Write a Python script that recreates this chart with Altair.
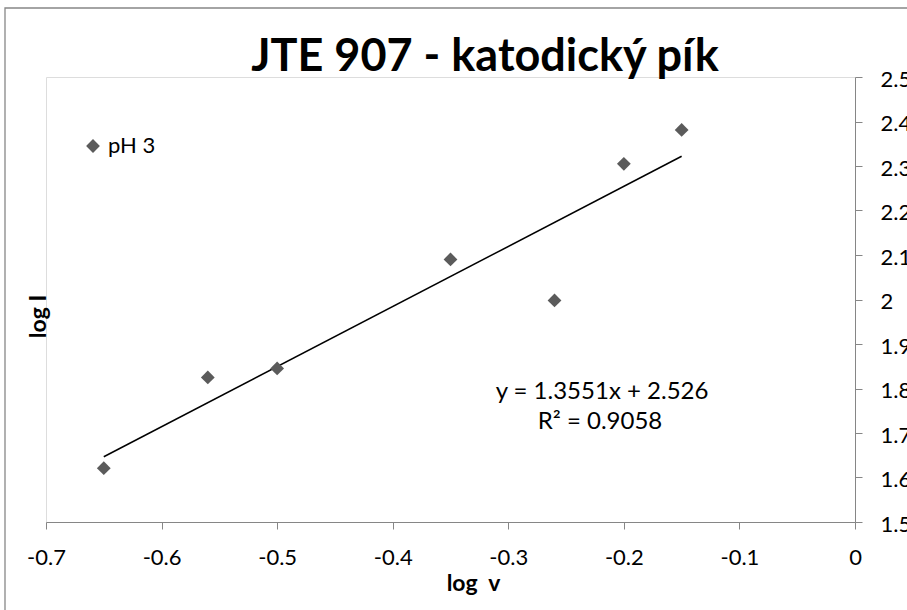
import altair as alt
import pandas as pd

log_v = [-0.65, -0.56, -0.50, -0.35, -0.26, -0.20, -0.15]
log_I = [1.621, 1.825, 1.845, 2.090, 1.998, 2.305, 2.381]
series = ["pH 3"] * len(log_v)

x_ticks = [-0.7, -0.6, -0.5, -0.4, -0.3, -0.2, -0.1, 0]
y_ticks = [1.5, 1.6, 1.7, 1.8, 1.9, 2.0, 2.1, 2.2, 2.3, 2.4, 2.5]

title_text = "JTE 907 - katodický pík"
eq_line1 = "y = 1.3551x + 2.526"
eq_line2 = "R² = 0.9058"

df = pd.DataFrame({"log_v": log_v, "log_I": log_I, "series": series})

FONT = "Lato"
W, H = 809, 445
PAD_L, PAD_T = 46, 77
AXIS_GRAY = "#868686"

x_enc = alt.X(
    "log_v:Q",
    scale=alt.Scale(domain=[-0.7, 0], nice=False, zero=False),
    axis=alt.Axis(
        values=x_ticks, labelExpr="toString(datum.value)", title="log\u00a0\u00a0v", grid=False,
        domainColor=AXIS_GRAY, tickColor=AXIS_GRAY, tickSize=7,
        labelFont=FONT, labelFontSize=22, labelColor="black", labelPadding=18,
        labelFlush=False, labelOverlap=False,
        titleFont=FONT, titleFontSize=23, titleFontWeight="bold", titleColor="black",
        titleX=427, titleY=68, titleBaseline="alphabetic", titleAlign="center",
    ),
)
y_enc = alt.Y(
    "log_I:Q",
    scale=alt.Scale(domain=[1.5, 2.5], nice=False, zero=False),
    axis=alt.Axis(
        orient="right", values=y_ticks, labelExpr="toString(datum.value)", title="log I", grid=False,
        domainColor=AXIS_GRAY, tickColor=AXIS_GRAY, tickSize=7,
        labelFont=FONT, labelFontSize=22, labelColor="black", labelPadding=18,
        labelOffset=2, labelFlush=False, labelOverlap=False,
        titleFont=FONT, titleFontSize=23, titleFontWeight="bold", titleColor="black",
        titleAngle=270, titleX=38 - (PAD_L + W), titleY=316 - PAD_T,
        titleBaseline="middle", titleAlign="center",
    ),
)

points = alt.Chart(df).mark_point(
    shape="diamond", filled=True, size=190, opacity=1
).encode(
    x=x_enc,
    y=y_enc,
    color=alt.Color(
        "series:N",
        scale=alt.Scale(range=["#5b5b5b"]),
        legend=alt.Legend(
            title=None, orient="none", legendX=36, legendY=58,
            symbolType="diamond", symbolSize=190, symbolOpacity=1,
            labelFont=FONT, labelFontSize=22, labelColor="black",
        ),
    ),
)

trend = alt.Chart(df).transform_regression(
    "log_v", "log_I"
).mark_line(color="black", strokeWidth=1.5).encode(
    x="log_v:Q", y="log_I:Q"
)

base_txt = alt.Chart(pd.DataFrame({"a": [0]}))

eq1 = base_txt.mark_text(
    font=FONT, fontSize=24, color="black", align="center", baseline="middle", text=eq_line1
).encode(x=alt.value(602 - PAD_L), y=alt.value(392 - PAD_T))

eq2 = base_txt.mark_text(
    font=FONT, fontSize=24, color="black", align="center", baseline="middle", text=eq_line2
).encode(x=alt.value(600 - PAD_L), y=alt.value(422 - PAD_T))

title = base_txt.mark_text(
    font=FONT, fontSize=45, fontWeight="bold", color="black", align="center",
    baseline="alphabetic", text=title_text
).encode(x=alt.value(485 - PAD_L), y=alt.value(71 - PAD_T))

border = base_txt.mark_rect(
    fill="white", fillOpacity=0, stroke="#878787", strokeWidth=1.3
).encode(
    x=alt.value(5 - PAD_L), x2=alt.value(W + 200),
    y=alt.value(8 - PAD_T), y2=alt.value(H + 200),
)

chart = alt.layer(border, trend, points, eq1, eq2, title).properties(
    width=W, height=H,
    autosize=alt.AutoSizeParams(type="none"),
    padding={"left": PAD_L, "top": PAD_T, "right": 907 - PAD_L - W, "bottom": 610 - PAD_T - H},
).configure_view(stroke=None).configure(background="white")

chart.save("out.html", embed_options={"renderer": "svg", "actions": False})
